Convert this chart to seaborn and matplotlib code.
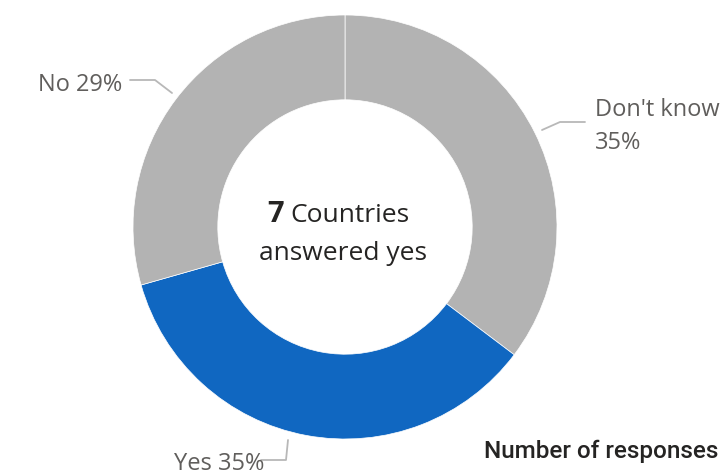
import matplotlib
matplotlib.use('Agg')
import matplotlib.pyplot as plt
import seaborn as sns

# slices, clockwise from 12 o'clock
categories = ["Don't know", 'Yes', 'No']
responses = [6, 6, 5]
yes_countries = 7

GREY = '#b3b3b3'
BLUE = '#1067c1'
LABEL_COLOR = '#605e5c'
LINE_COLOR = '#b8b8b8'
TEXT_DARK = '#252423'

sns.set_theme(style='white')
plt.rcParams['font.family'] = ['Open Sans', 'DejaVu Sans']

W, H = 727, 475
fig = plt.figure(figsize=(W / 100, H / 100), dpi=100)
ax = fig.add_axes([0, 0, 1, 1])

cx, cy, r = 345, H - 227, 212
colors = [GREY, BLUE, GREY]
ax.pie(responses, colors=colors, startangle=90, counterclock=False,
       center=(cx, cy), radius=r, frame=True,
       wedgeprops=dict(width=r * 0.4, edgecolor='white', linewidth=0.5))
ax.set_xlim(0, W)
ax.set_ylim(0, H)
ax.set_aspect('equal')
ax.axis('off')

total = sum(responses)
pct = [round(v / total * 100) for v in responses]

def y(p):
    return H - p

# leader lines (pixel coords from top-left)
lw = 1.3
ax.plot([542, 560, 585], [y(130), y(122), y(122)], color=LINE_COLOR, lw=lw)
ax.plot([130, 155, 172], [y(80), y(80), y(93)], color=LINE_COLOR, lw=lw)
ax.plot([261, 286, 288], [y(460), y(460), y(440)], color=LINE_COLOR, lw=lw)

fs = 17
ax.text(595, y(110), categories[0], fontsize=fs, color=LABEL_COLOR,
        ha='left', va='center')
ax.text(595, y(143), f'{pct[0]}%', fontsize=fs, color=LABEL_COLOR,
        ha='left', va='center')
ax.text(122, y(85), f'{categories[2]} {pct[2]}%', fontsize=fs,
        color=LABEL_COLOR, ha='right', va='center')
ax.text(264, y(464), f'{categories[1]} {pct[1]}%', fontsize=fs,
        color=LABEL_COLOR, ha='right', va='center')

# centre text
ax.text(284, y(214), str(yes_countries), fontsize=21, fontweight='bold',
        color=TEXT_DARK, ha='right', va='center')
ax.text(290, y(215), 'Countries', fontsize=19, color=TEXT_DARK,
        ha='left', va='center')
ax.text(cx - 2, y(253), 'answered yes', fontsize=19, color=TEXT_DARK,
        ha='center', va='center')

ax.text(484, y(451), 'Number of responses', fontsize=17.5, fontweight='medium',
        color=TEXT_DARK, ha='left', va='center', family=['Roboto', 'DejaVu Sans'])

fig.savefig('out.png', dpi=100, facecolor='white')
